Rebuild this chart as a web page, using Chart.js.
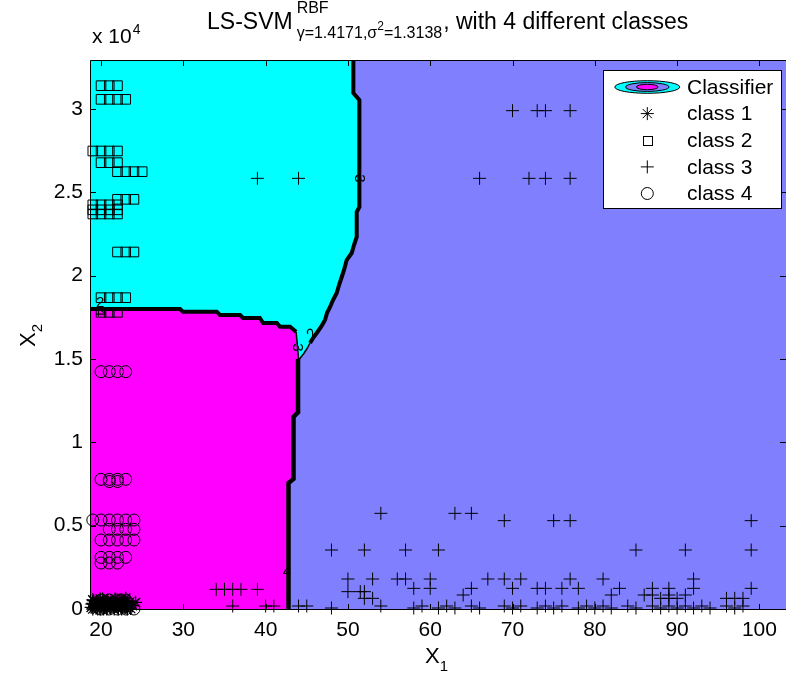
<!DOCTYPE html>
<html><head><meta charset="utf-8">
<script src="https://cdn.jsdelivr.net/npm/chart.js@4.4.1/dist/chart.umd.min.js"></script>
<style>html,body{margin:0;padding:0;background:#fff;overflow:hidden}#wrap{width:786px;height:673px}</style>
</head><body><div id="wrap"><canvas id="c" width="786" height="673"></canvas></div>
<script>
// ---------- axes ----------
const xMin = 18.66, xMax = 103.23;
const yMin = -60, yMax = 32940;
const xTicks = [20, 30, 40, 50, 60, 70, 80, 90, 100];
const yTicks = [0, 5000, 10000, 15000, 20000, 25000, 30000];
const yTickLabels = ['0', '0.5', '1', '1.5', '2', '2.5', '3'];

// ---------- classifier regions (data coordinates) ----------
const cyanRegionX = [18, 50.66, 50.66, 51.39, 51.39, 51.07, 51.07, 50.74, 50.46, 49.85, 49.53, 49.25, 48.92, 48.64, 48.19, 47.83, 47.46, 47.22, 46.73, 46.21, 45.76, 45.40, 45.0, 44.6, 44.0, 43.9, 43.7, 42.97, 41.75, 41.35, 39.7, 39.3, 37.25, 36.9, 34.46, 34.06, 29.96, 29.6, 18];
const cyanRegionY = [33500, 33500, 30960, 30540, 24120, 23820, 22320, 21840, 21360, 20940, 20340, 19920, 19440, 18960, 18540, 18120, 17760, 17340, 16920, 16560, 16260, 15960, 15600, 15300, 14940, 15600, 16640, 16940, 16940, 17160, 17160, 17460, 17460, 17640, 17640, 17840, 17840, 18000, 18000];
const magentaRegionX = [18, 42.78, 42.78, 43.39, 43.39, 43.94, 43.94, 43.7, 42.97, 41.75, 41.35, 39.7, 39.3, 37.25, 36.9, 34.46, 34.06, 29.96, 29.6, 18];
const magentaRegionY = [-500, -500, 7560, 7800, 11520, 11800, 15600, 16640, 16940, 16940, 17160, 17160, 17460, 17460, 17640, 17640, 17840, 17840, 18000, 18000];

// decision boundaries
const bound23X = [50.66, 50.66, 51.39, 51.39, 51.07, 51.07, 50.74, 50.46, 49.85, 49.53, 49.25, 48.92, 48.64, 48.19, 47.83, 47.46, 47.22, 46.73, 46.21, 45.76, 45.40];
const bound23Y = [33500, 30960, 30540, 24120, 23820, 22320, 21840, 21360, 20940, 20340, 19920, 19440, 18960, 18540, 18120, 17760, 17340, 16920, 16560, 16260, 15960];
const bound24X = [18, 29.6, 29.96, 34.06, 34.46, 36.9, 37.25, 39.3, 39.7, 41.35, 41.75, 42.97, 43.7];
const bound24Y = [18000, 18000, 17840, 17840, 17640, 17640, 17460, 17460, 17160, 17160, 16940, 16940, 16640];
const bound34X = [43.94, 43.94, 43.39, 43.39, 42.78, 42.78];
const bound34Y = [15000, 11800, 11520, 7800, 7560, -500];
const tailX = [45.40, 45.0, 44.6, 44.0, 43.9, 43.7];
const tailY = [15960, 15600, 15300, 14940, 15600, 16640];

// contour labels
const contourLabelX = [51.4, 45.7, 43.8, 42.6, 19.9, 19.9];
const contourLabelY = [25840, 16500, 15700, 2250, 18350, 17800];
const contourLabelText = ['3', '2', '3', '4', '2', '4'];
const contourLabelAngle = [90, -50, 90, 0, 0, 90];

// ---------- data ----------
const class1X = [18.9, 19.2, 19.5, 19.8, 20.1, 20.4, 20.7, 21.0, 21.3, 21.6, 21.9, 22.2, 22.5, 22.8, 23.1, 19.0, 19.4, 19.9, 20.3, 20.8, 21.2, 21.7, 22.1, 22.6, 23.0, 19.3, 20.0, 20.6, 21.4, 22.0, 22.9, 23.5, 18.8, 19.6, 20.5, 21.1, 21.8, 22.4, 23.3, 19.1, 20.2, 21.5, 22.7, 23.8, 24.2, 23.6, 19.7, 20.9, 22.3, 19.0, 19.9, 20.7, 21.6, 22.5, 23.2];
const class1Y = [300, 150, 450, 250, 350, 100, 400, 200, 500, 300, 150, 350, 250, 450, 200, 550, 50, 600, 0, 550, 50, 600, 0, 100, 650, 380, 220, 300, 280, 480, 80, 420, 100, 0, 250, 80, 420, 120, 250, 500, 600, 180, 320, 200, 400, 30, 350, 380, 550, 0, 0, 0, 0, 0, 0];

const class2X = [20, 21, 22, 20, 21, 22, 23, 19, 20, 21, 22, 20, 21, 22, 22, 23, 24, 25, 22, 23, 24, 19, 20, 21, 22, 19, 20, 21, 22, 19, 20, 21, 22, 22, 23, 24, 20, 21, 22, 23, 20, 21, 22];
const class2Y = [31400, 31400, 31400, 30580, 30580, 30580, 30580, 27480, 27480, 27480, 27480, 26780, 26780, 26780, 26240, 26240, 26240, 26240, 24580, 24580, 24580, 24250, 24250, 24250, 24250, 23950, 23950, 23950, 23950, 23700, 23700, 23700, 23700, 21420, 21420, 21420, 18680, 18680, 18680, 18680, 17800, 17800, 17800];

const class3X = [39, 44, 70, 73, 74, 77, 66, 72, 74, 77, 54, 63, 65, 69, 75, 77, 99, 48, 52, 57, 61, 85, 91, 99, 50, 53, 56, 57, 60, 67, 69, 71, 77, 81, 92, 58, 60, 65, 70, 73, 74, 76, 78, 83, 87, 89, 92, 99, 50, 51.5, 52, 64, 82, 86, 87, 89, 91, 52, 53, 88, 89, 90, 96, 97, 98, 44, 45, 48, 54, 58, 59, 61, 62, 63, 65, 66, 69, 70, 71, 73, 74, 75, 76, 78, 79, 80, 81, 82, 84, 85, 87, 88, 89, 90, 91, 92, 93, 94, 96, 97, 98, 34, 35, 36, 37, 39, 36, 40, 41];
const class3Y = [25840, 25840, 29900, 29900, 29900, 29900, 25840, 25840, 25840, 25840, 5740, 5740, 5740, 5300, 5300, 5300, 5300, 3540, 3540, 3540, 3540, 3540, 3540, 3540, 1800, 1800, 1800, 1800, 1800, 1800, 1800, 1800, 1800, 1800, 1800, 1240, 1240, 1240, 1240, 1240, 1240, 1240, 1240, 1240, 1240, 1240, 1240, 1240, 1040, 1040, 1040, 840, 840, 840, 840, 840, 840, 640, 640, 640, 640, 640, 640, 640, 640, 180, 180, 60, 180, 60, 180, 60, 180, 60, 180, 60, 180, 60, 180, 60, 180, 60, 180, 60, 180, 60, 180, 60, 180, 60, 180, 60, 180, 60, 180, 60, 180, 60, 180, 60, 180, 1180, 1180, 1180, 1180, 1180, 180, 180, 180];

const class4X = [20, 21, 22, 23, 20, 21, 22, 23, 21, 22, 19, 20, 21, 22, 23, 24, 21, 22, 23, 24, 20, 21, 22, 23, 24, 20, 21, 22, 23, 20, 21, 22, 20, 21, 22, 23, 20, 21, 22, 23, 24];
const class4Y = [14240, 14240, 14240, 14240, 7780, 7780, 7780, 7780, 7650, 7650, 5340, 5340, 5340, 5340, 5340, 5340, 4780, 4780, 4780, 4780, 4140, 4140, 4140, 4140, 4140, 3100, 3100, 3100, 3100, 2760, 2760, 2760, 540, 540, 540, 540, 0, 0, 0, 0, 0];

const zip = (xs, ys) => xs.map((x, i) => ({x: x, y: ys[i]}));
const FONT = '"Liberation Sans", Arial, Helvetica, sans-serif';

const regionDs = (xs, ys, color, order) => ({
  data: zip(xs, ys), showLine: true, fill: 'shape', backgroundColor: color,
  borderWidth: 0, borderColor: color, pointRadius: 0, tension: 0, order: order
});
const lineDs = (xs, ys, w, order) => ({
  data: zip(xs, ys), showLine: true, fill: false, borderColor: '#000', borderWidth: w,
  pointRadius: 0, tension: 0, order: order, borderJoinStyle: 'miter'
});
const markerDs = (xs, ys, style, r, w, order) => ({
  data: zip(xs, ys), showLine: false, pointStyle: style, pointRadius: r,
  pointBorderColor: '#000', pointBackgroundColor: 'rgba(0,0,0,0)', pointBorderWidth: w,
  order: order, clip: false
});

const bgPlugin = {
  id: 'bg',
  beforeDatasetsDraw(chart) {
    const {ctx, chartArea: a} = chart;
    ctx.save();
    ctx.fillStyle = '#8080FF';
    ctx.fillRect(a.left, a.top, a.right - a.left, a.bottom - a.top);
    ctx.restore();
  }
};

const decoPlugin = {
  id: 'deco',
  afterDraw(chart) {
    const {ctx, chartArea: a, scales: {x, y}} = chart;
    ctx.save();
    // contour labels
    ctx.fillStyle = '#000';
    ctx.font = '15px ' + FONT;
    ctx.textAlign = 'center'; ctx.textBaseline = 'middle';
    contourLabelText.forEach((t, i) => {
      ctx.save();
      ctx.translate(x.getPixelForValue(contourLabelX[i]), y.getPixelForValue(contourLabelY[i]));
      ctx.rotate(contourLabelAngle[i] * Math.PI / 180);
      ctx.fillText(t, 0, 0);
      ctx.restore();
    });
    // axes box
    ctx.strokeStyle = '#000'; ctx.lineWidth = 1;
    ctx.beginPath();
    ctx.moveTo(a.right, a.top + 0.5); ctx.lineTo(a.left + 0.5, a.top + 0.5);
    ctx.lineTo(a.left + 0.5, a.bottom - 0.5); ctx.lineTo(a.right, a.bottom - 0.5);
    ctx.stroke();
    const tl = 6;
    ctx.beginPath();
    xTicks.forEach(v => {
      const p = Math.round(x.getPixelForValue(v)) + 0.5;
      ctx.moveTo(p, a.bottom); ctx.lineTo(p, a.bottom - tl);
      ctx.moveTo(p, a.top); ctx.lineTo(p, a.top + tl);
    });
    yTicks.forEach(v => {
      const p = Math.round(y.getPixelForValue(v)) + 0.5;
      ctx.moveTo(a.left, p); ctx.lineTo(a.left + tl, p);
      ctx.moveTo(a.right, p); ctx.lineTo(a.right - tl, p);
    });
    ctx.stroke();

    // title
    ctx.textAlign = 'left'; ctx.textBaseline = 'alphabetic';
    ctx.font = '23px ' + FONT;
    let tx = 207;
    ctx.fillText('LS-SVM', tx, 28.5);
    tx += ctx.measureText('LS-SVM').width + 4;
    ctx.font = '16px ' + FONT;
    ctx.fillText('RBF', tx, 13);
    const supEnd = tx + ctx.measureText('RBF').width;
    let sx = tx;
    ctx.fillText('\u03b3=1.4171,\u03c3', sx, 37.5);
    sx += ctx.measureText('\u03b3=1.4171,\u03c3').width;
    ctx.font = '12px ' + FONT;
    ctx.fillText('2', sx, 30);
    sx += ctx.measureText('2').width;
    ctx.font = '16px ' + FONT;
    ctx.fillText('=1.3138', sx, 37.5);
    sx += ctx.measureText('=1.3138').width;
    ctx.font = '23px ' + FONT;
    ctx.fillText(', with 4 different classes', Math.max(sx, supEnd) + 1, 28.5);

    // exponent label
    ctx.font = '21px ' + FONT;
    ctx.fillText('x 10', 92, 43);
    const ew = ctx.measureText('x 10').width;
    ctx.font = '14px ' + FONT;
    ctx.fillText('4', 92 + ew + 1, 33.5);

    // axis titles
    ctx.font = '22px ' + FONT;
    ctx.fillText('X', 425, 663);
    const xw = ctx.measureText('X').width;
    ctx.font = '15px ' + FONT;
    ctx.fillText('1', 425 + xw, 671);
    ctx.save();
    ctx.translate(35, 347);
    ctx.rotate(-Math.PI / 2);
    ctx.font = '22px ' + FONT;
    ctx.fillText('X', 0, 0);
    ctx.font = '15px ' + FONT;
    ctx.fillText('2', xw, 7);
    ctx.restore();

    // legend
    const L = 603, T = 70, R = 782, B = 209;
    ctx.fillStyle = '#fff';
    ctx.fillRect(L, T, R - L, B - T);
    ctx.strokeStyle = '#000';
    ctx.strokeRect(L + 0.5, T + 0.5, R - L - 1, B - T - 1);
    const cx = 647.3, rows = [87, 113.6, 140.3, 166.9, 193.5];
    const ell = (rx, ry, col) => {
      ctx.beginPath(); ctx.ellipse(cx, rows[0], rx, ry, 0, 0, Math.PI * 2);
      ctx.fillStyle = col; ctx.fill(); ctx.stroke();
    };
    ell(32.5, 6.3, '#00FFFF'); ell(21.7, 4.4, '#8080FF'); ell(10.8, 2.7, '#FF00FF');
    ctx.lineWidth = 1; ctx.strokeStyle = '#000';
    // asterisk
    ctx.beginPath();
    const r1 = 6.5;
    for (let k = 0; k < 4; k++) {
      const ang = k * Math.PI / 4;
      ctx.moveTo(cx - r1 * Math.cos(ang), rows[1] - r1 * Math.sin(ang));
      ctx.lineTo(cx + r1 * Math.cos(ang), rows[1] + r1 * Math.sin(ang));
    }
    ctx.stroke();
    ctx.strokeRect(Math.round(cx - 4.5) + 0.5, Math.round(rows[2] - 4.5) + 0.5, 9, 9);
    ctx.beginPath();
    ctx.moveTo(cx - 6.5, rows[3]); ctx.lineTo(cx + 6.5, rows[3]);
    ctx.moveTo(cx, rows[3] - 6.5); ctx.lineTo(cx, rows[3] + 6.5);
    ctx.stroke();
    ctx.beginPath(); ctx.arc(cx, rows[4], 6, 0, Math.PI * 2); ctx.stroke();
    ctx.fillStyle = '#000';
    ctx.font = '21px ' + FONT; ctx.textBaseline = 'middle';
    ['Classifier', 'class 1', 'class 2', 'class 3', 'class 4'].forEach((t, i) => ctx.fillText(t, 687, rows[i] + 1));
    ctx.restore();
  }
};

new Chart(document.getElementById('c'), {
  type: 'scatter',
  data: {
    datasets: [
      regionDs(cyanRegionX, cyanRegionY, '#00FFFF', 20),
      regionDs(magentaRegionX, magentaRegionY, '#FF00FF', 19),
      lineDs(tailX, tailY, 1.5, 10),
      lineDs(bound23X, bound23Y, 4, 9),
      lineDs(bound24X, bound24Y, 4, 9),
      lineDs(bound34X, bound34Y, 4.5, 9),
      markerDs(class1X, class1Y, 'star', 6.5, 1.3, 1),
      markerDs(class2X, class2Y, 'rect', 6.8, 1, 1),
      markerDs(class3X, class3Y, 'cross', 6.5, 1, 1),
      markerDs(class4X, class4Y, 'circle', 6, 1, 1)
    ]
  },
  options: {
    responsive: false, animation: false, devicePixelRatio: 1,
    layout: {autoPadding: false, padding: {top: 60, right: 0, left: 0, bottom: 0}},
    plugins: {legend: {display: false}, tooltip: {enabled: false}, title: {display: false}},
    scales: {
      x: {
        type: 'linear', min: xMin, max: xMax,
        afterFit(s) { s.height = 63; s.paddingLeft = 0; s.paddingRight = 0; },
        afterBuildTicks(s) { s.ticks = xTicks.map(v => ({value: v})); },
        grid: {display: false, drawTicks: false}, border: {display: false},
        ticks: {font: {family: FONT, size: 21}, color: '#000', padding: 8, maxRotation: 0, autoSkip: false, callback: v => String(v)}
      },
      y: {
        type: 'linear', min: yMin, max: yMax,
        afterFit(s) { s.width = 90; s.paddingTop = 0; s.paddingBottom = 0; },
        afterBuildTicks(s) { s.ticks = yTicks.map(v => ({value: v})); },
        grid: {display: false, drawTicks: false}, border: {display: false},
        ticks: {font: {family: FONT, size: 21}, color: '#000', padding: 7, autoSkip: false, callback: (v, i) => yTickLabels[i]}
      }
    }
  },
  plugins: [bgPlugin, decoPlugin]
});
</script></body></html>
